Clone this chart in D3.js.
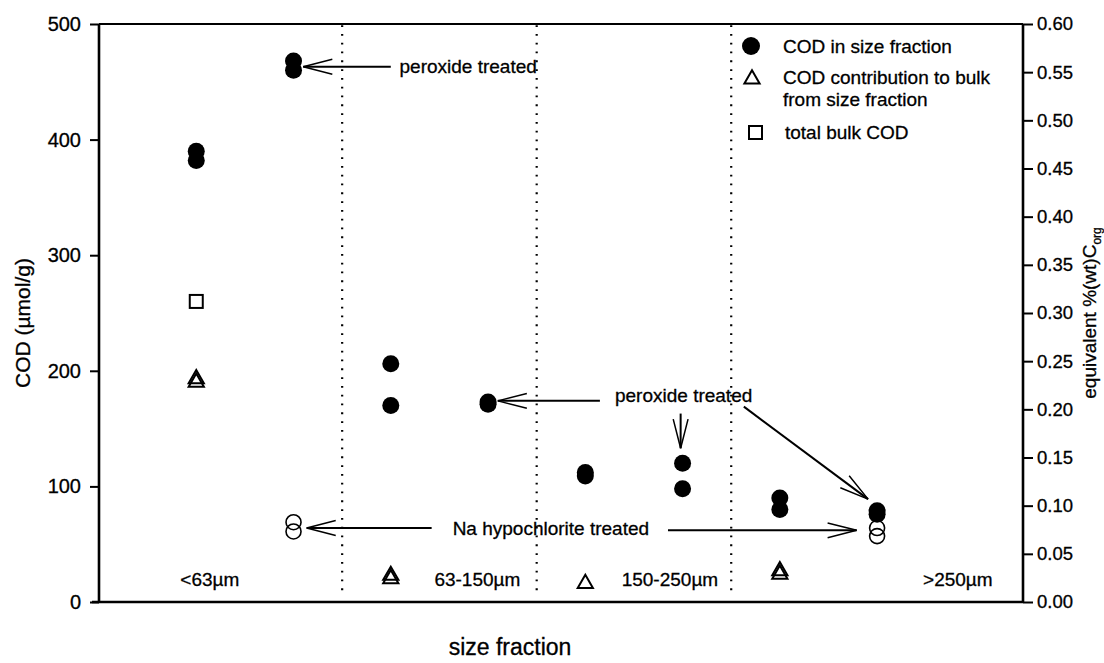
<!DOCTYPE html>
<html>
<head>
<meta charset="utf-8">
<script src="https://cdn.jsdelivr.net/npm/d3@7"></script>
<style>
  body { margin: 0; background: #fff; }
  text { font-family: "Liberation Sans", Arial, Helvetica, sans-serif; fill: #000; stroke: #000; stroke-width: 0.3px; }
</style>
</head>
<body>
<svg id="chart" width="1104" height="663"></svg>
<script>
// ---- data -------------------------------------------------------------
const categories = ["<63\u00b5m", "63-150\u00b5m", "150-250\u00b5m", ">250\u00b5m"];

// COD (µmol/g) measured in each size fraction (replicates)
const codFraction    = [[390, 382], [206, 170], [112, 109], [90, 80]];
// same fraction after peroxide treatment
const codPeroxide    = [[468, 460], [173, 171], [120, 98], [79, 76]];
// after Na hypochlorite treatment (only fine and coarse fractions)
const codHypochlorite = [[69, 61], [], [], [64, 57]];
// contribution of each fraction to the bulk COD
const codContribution = [[193, 190], [23, 20], [16], [27, 24]];
// total bulk COD
const bulkCOD = [[260], [], [], []];

const leftTicks  = [0, 100, 200, 300, 400, 500];
const rightTicks = [0, 0.05, 0.10, 0.15, 0.20, 0.25, 0.30, 0.35, 0.40, 0.45, 0.50, 0.55, 0.60];

// ---- layout -----------------------------------------------------------
const plot = { left: 99, right: 1023, top: 24, bottom: 602 };

const svg = d3.select("#chart");

// slots along the size-fraction axis: untreated at 2i+1, treated at 2i+2
const x  = d3.scaleLinear().domain([0, 9.5]).range([plot.left, plot.right]);
const yL = d3.scaleLinear().domain([0, 500]).range([plot.bottom, plot.top]);
const yR = d3.scaleLinear().domain([0, 0.6]).range([plot.bottom, plot.top]);

const slotRaw = i => 2 * i + 1;
const slotTreated = i => 2 * i + 2;
const separators = [0, 1, 2].map(i => 2 * i + 2.5);
const labelSlot = [1.14, 3.89, 5.87, 8.83];

// dotted separators between fractions
svg.append("g").selectAll("line").data(separators).join("line")
  .attr("x1", d => x(d)).attr("x2", d => x(d))
  .attr("y1", yL(499)).attr("y2", yL(7))
  .attr("stroke", "#000").attr("stroke-width", 2.2)
  .attr("stroke-dasharray", "1.8,7");

// axes
const axL = svg.append("g").attr("transform", `translate(${plot.left},0)`)
  .call(d3.axisLeft(yL).tickValues(leftTicks).tickSize(9).tickPadding(9).tickFormat(d3.format("d")));
const axR = svg.append("g").attr("transform", `translate(${plot.right},0)`)
  .call(d3.axisRight(yR).tickValues(rightTicks).tickSize(10).tickPadding(4).tickFormat(d3.format(".2f")));
[axL, axR].forEach(a => {
  a.select(".domain").remove();
  a.selectAll(".tick line").attr("stroke", "#000").attr("stroke-width", 2);
  a.selectAll(".tick text").attr("font-family", "Liberation Sans, Arial, sans-serif")
    .attr("fill", "#000").attr("stroke", "#000").attr("stroke-width", 0.5);
});
axL.selectAll(".tick text").attr("font-size", 20);
axR.selectAll(".tick text").attr("font-size", 18.5);

// frame
svg.append("line").attr("x1", plot.left).attr("x2", plot.right).attr("y1", plot.top).attr("y2", plot.top)
  .attr("stroke", "#000").attr("stroke-width", 2);
svg.append("line").attr("x1", plot.left - 7).attr("x2", plot.right).attr("y1", plot.bottom).attr("y2", plot.bottom)
  .attr("stroke", "#000").attr("stroke-width", 2.6);
svg.append("line").attr("x1", plot.left).attr("x2", plot.left).attr("y1", plot.top).attr("y2", plot.bottom)
  .attr("stroke", "#000").attr("stroke-width", 2.6);
svg.append("line").attr("x1", plot.right).attr("x2", plot.right).attr("y1", plot.top).attr("y2", plot.bottom + 1)
  .attr("stroke", "#000").attr("stroke-width", 2.6);

// axis titles
svg.append("text").attr("transform", `translate(30,323) rotate(-90)`)
  .attr("text-anchor", "middle").attr("font-size", 21).text("COD (\u00b5mol/g)");
const rt = svg.append("text").attr("transform", `translate(1096,313) rotate(-90)`)
  .attr("text-anchor", "middle").attr("font-size", 19);
rt.append("tspan").text("equivalent %(wt)C");
rt.append("tspan").attr("font-size", 12).attr("dy", 5).text("org");
svg.append("text").attr("x", 510).attr("y", 655).attr("text-anchor", "middle")
  .attr("font-size", 23).text("size fraction");

// category labels inside the plot
svg.append("g").selectAll("text").data(categories).join("text")
  .attr("x", (d, i) => x(labelSlot[i])).attr("y", yL(14))
  .attr("text-anchor", "middle").attr("font-size", 19).text(d => d);

// ---- marks ------------------------------------------------------------
const flat = (arr, slot) => arr.flatMap((vals, i) => vals.map(v => ({ s: slot(i), v })));

const g = svg.append("g");
const tri = d3.symbol().type(d3.symbolTriangle).size(100);

// filled circles: COD in size fraction (raw and peroxide treated)
g.selectAll("circle.raw").data(flat(codFraction, slotRaw).concat(flat(codPeroxide, slotTreated)))
  .join("circle").attr("class", "raw")
  .attr("cx", d => x(d.s)).attr("cy", d => yL(d.v)).attr("r", 8.5).attr("fill", "#000");

// open circles: hypochlorite treated
g.selectAll("circle.hyp").data(flat(codHypochlorite, slotTreated))
  .join("circle").attr("class", "hyp")
  .attr("cx", d => x(d.s)).attr("cy", d => yL(d.v)).attr("r", 7.5)
  .attr("fill", "none").attr("stroke", "#000").attr("stroke-width", 1.6);

// open triangles: contribution to bulk
g.selectAll("path.tri").data(flat(codContribution, slotRaw))
  .join("path").attr("class", "tri")
  .attr("transform", d => `translate(${x(d.s)},${yL(d.v)})`)
  .attr("d", tri).attr("fill", "none").attr("stroke", "#000").attr("stroke-width", 2);

// open square: total bulk COD
g.selectAll("rect.bulk").data(flat(bulkCOD, slotRaw))
  .join("rect").attr("class", "bulk")
  .attr("x", d => x(d.s) - 6.5).attr("y", d => yL(d.v) - 6.5)
  .attr("width", 13).attr("height", 13)
  .attr("fill", "none").attr("stroke", "#000").attr("stroke-width", 2);

// ---- annotations ------------------------------------------------------
const notes = [
  { text: "peroxide treated", at: [3.09, 463] },
  { text: "peroxide treated", at: [5.305, 179] },
  { text: "Na hypochlorite treated", at: [3.636, 64] }
];
const arrows = [
  { from: [3.0, 463], to: [2.1, 463] },
  { from: [5.15, 174], to: [4.1, 174] },
  { from: [5.98, 163], to: [5.98, 133] },
  { from: [6.63, 169], to: [7.907, 89] },
  { from: [3.42, 64], to: [2.135, 64] },
  { from: [5.85, 62], to: [7.79, 62] }
];

svg.append("g").selectAll("text").data(notes).join("text")
  .attr("x", d => x(d.at[0])).attr("y", d => yL(d.at[1])).attr("dy", "0.35em")
  .attr("font-size", 19).text(d => d.text);

const ag = svg.append("g").attr("stroke", "#000").attr("fill", "none");
arrows.forEach(a => {
  const x1 = x(a.from[0]), y1 = yL(a.from[1]), x2 = x(a.to[0]), y2 = yL(a.to[1]);
  ag.append("line").attr("x1", x1).attr("y1", y1).attr("x2", x2).attr("y2", y2).attr("stroke-width", 2);
  const ang = Math.atan2(y2 - y1, x2 - x1), len = 30, half = 0.25;
  const barb = s => [x2 - len * Math.cos(ang + s * half), y2 - len * Math.sin(ang + s * half)];
  const p1 = barb(1), p2 = barb(-1);
  ag.append("path").attr("d", `M${p1[0]},${p1[1]}L${x2},${y2}L${p2[0]},${p2[1]}`).attr("stroke-width", 1.5);
});

// ---- legend -----------------------------------------------------------
const lg = svg.append("g");
lg.append("circle").attr("cx", 751).attr("cy", 46).attr("r", 9).attr("fill", "#000");
lg.append("path").attr("transform", "translate(752,79)").attr("d", tri)
  .attr("fill", "none").attr("stroke", "#000").attr("stroke-width", 2);
lg.append("rect").attr("x", 749).attr("y", 126).attr("width", 13).attr("height", 13)
  .attr("fill", "none").attr("stroke", "#000").attr("stroke-width", 2);
[["COD in size fraction", 783, 53], ["COD contribution to bulk", 783, 84],
 ["from size fraction", 783, 106], ["total bulk COD", 785, 139]].forEach(([t, tx, ty]) =>
  lg.append("text").attr("x", tx).attr("y", ty).attr("font-size", 19).text(t));
</script>
</body>
</html>
